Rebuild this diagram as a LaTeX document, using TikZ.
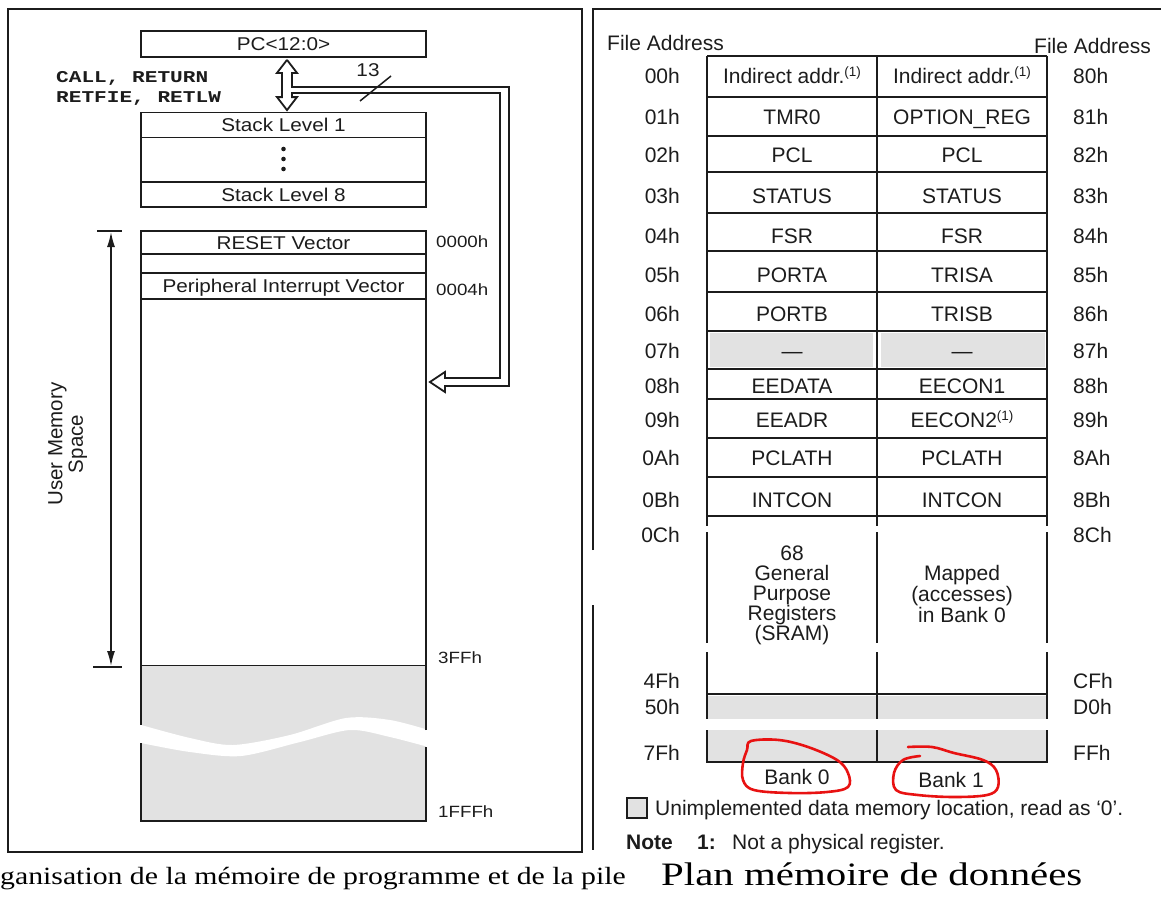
\documentclass[tikz,border=0pt]{standalone}
\usepackage{fontspec}
\usetikzlibrary{arrows.meta,calc}
\setmainfont{Liberation Serif}
\newfontfamily\rsans{Liberation Sans}
\newfontfamily\lsans[FakeStretch=1.12]{Liberation Sans}
\newfontfamily\lsmall[FakeStretch=1.15]{Liberation Sans}
\newfontfamily\lmono[FakeStretch=1.28]{Liberation Mono}
\newfontfamily\capA[FakeStretch=1.2]{Liberation Serif}
\newfontfamily\capB[FakeStretch=1.25]{Liberation Serif}
\newcommand\myfs[1]{\fontsize{#1}{#1}\selectfont}
\newcommand\sone{\raisebox{7pt}{\myfs{13.5}(1)}}
\definecolor{ink}{HTML}{1C1C1C}
\definecolor{unimp}{HTML}{E2E2E2}
\definecolor{hand}{RGB}{232,18,18}
\begin{document}
\begin{tikzpicture}[x=1pt,y=-1pt,
  ln/.style={draw=ink, line width=1.8},
  lbox/.style={draw=ink, line width=1.8, inner sep=0, minimum width=285, minimum height=#1,
    font=\lsans\myfs{18.5}, text=ink, text height=13.2, text depth=0},
  ltxt/.style={inner sep=0, font=\lsans\myfs{18.5}, text=ink, text height=13.2, text depth=0},
  lsm/.style={inner sep=0, font=\lsmall\myfs{16.3}, text=ink, text height=11.7, text depth=0, anchor=west},
  mono/.style={inner sep=0, font=\lmono\bfseries\myfs{16.5}, text=ink, text height=9.4, text depth=0, anchor=west},
  rtxt/.style={inner sep=0, font=\rsans\myfs{21}, text=ink, text height=15, text depth=0},
  rmulti/.style={inner sep=0, font=\rsans\fontsize{21}{#1}\selectfont, text=ink, align=center},
  redloop/.style={draw=hand, line width=2.6, line cap=round, line join=round}
]
\useasboundingbox (0,0) rectangle (1161,899);

% ================= LEFT PANEL =================
\draw[ln] (8,9) rectangle (582,852);

\node[lbox=26] (pc) at (283.5,44) {PC<12:0>};
\node[lbox=25] (s1) at (283.5,125) {Stack Level 1};
\node[lbox=44.5] (sd) at (283.5,159.75) {};
\node[lbox=25] (s8) at (283.5,194.5) {Stack Level 8};
\foreach \yy [count=\k] in {149,159,169}
  \fill[ink] (283.5,\yy) circle (2.3);

\node[mono] (call) at (56,78) {CALL, RETURN};
\node[mono] (retf) at (56,98) {RETFIE, RETLW};

% hollow double arrow PC <-> stack
\coordinate (dt) at ($(pc.south)+(3.5,2)$);
\coordinate (db) at ($(s1.north)+(3.5,-1.5)$);
\draw[ln, line join=miter] (dt) -- ++(-10,13) -- ++(5,0) |- ($(db)+(-5,-13)$) -- ++(-5,0) -- (db) -- ++(10,-13) -- ++(-5,0) -- ++(0,-5);
\draw[ln, line join=miter] (dt) -- ++(10,13) -- ++(-5,0) -- ++(0,15);

% program memory
\node[lbox=23] (reset) at (283.5,242.5) {RESET Vector};
\node[lbox=19] (blank) at (283.5,263.5) {};
\node[lbox=26] (piv) at (283.5,286) {Peripheral Interrupt Vector};
\node[lbox=367] (user) at (283.5,482.5) {};

% 13-bit bus into program memory
\coordinate (tip) at ($(user.east)+(3,-100.5)$);
\draw[ln, line join=miter] (292,87) -| (509,386) -- ($(tip)+(15,4)$) -- ++(0,6) -- (tip) -- ($(tip)+(15,-10)$) -- ++(0,6) -| (500,93) -- (292,93);

\node[ltxt] (n13) at (368,70) {13};
\draw[ln, line width=1.5] (360,101) -- (391,76);

\node[lsm] (a0) at (436,242) {0000h};
\node[lsm] (a4) at (436,290) {0004h};
\node[lsm] (a3ff) at (438,658) {3FFh};
\node[lsm] (a1fff) at (438,812) {1FFFh};

% unimplemented program area
\fill[unimp] (141,666) rectangle (426,821);
\fill[white] plot[smooth] coordinates {(134,723) (141,725) (190,738) (233,745) (290,735) (346,718) (390,720) (432,731)}
  -- plot[smooth] coordinates {(432,748) (390,737) (350,730) (300,742) (241,756) (190,752) (141,743) (134,741)} -- cycle;
\draw[ln] (141,666) -- (141,725) (141,743) -- (141,821) -- (426,821) -- (426,747) (426,730) -- (426,666);

% user memory space dimension
\draw[ln, line width=1.5] (97,231) -- (122,231);
\draw[ln, line width=1.5] (93,667) -- (122,667);
\draw[ink, line width=1.5, {Latex[length=15,width=8]}-{Latex[length=15,width=8]}] (111,232) -- (111,666);
\node[inner sep=0, font=\rsans\fontsize{20.5}{20.5}\selectfont, text=ink, align=center, rotate=90] (ums) at (67.7,444) {User Memory\\Space};

\node[inner sep=0, font=\capA\myfs{24.8}, anchor=base west] (capl) at (0,884) {ganisation de la mémoire de programme et de la pile};

% ================= RIGHT PANEL =================
\draw[ln] (593,550) -- (593,9) -- (1165,9);
\draw[ln] (593,605) -- (593,850);

\node[rtxt, anchor=west] (fal) at (607,43) {File Address};
\node[rtxt, anchor=west] (far) at (1034,46) {File Address};

% grey cells
\fill[unimp] (710,333) rectangle (873,367);
\fill[unimp] (881,333) rectangle (1045,367);
\fill[unimp] (708,696) rectangle (1046,719);
\fill[unimp] (708,730) rectangle (1046,762);

\foreach \yy in {56,97,136,172,213,251,292,331,369,399,438,477,516}
  \draw[ln] (707,\yy) -- (1047,\yy);
\foreach \xx in {707,877,1047}
  \draw[ln] (\xx,56) -- (\xx,526) (\xx,532) -- (\xx,643) (\xx,652) -- (\xx,719) (\xx,730) -- (\xx,763);
\draw[ln] (707,694) -- (1047,694);
\draw[ln] (707,762) -- (1047,762);

\foreach \yy/\la/\ca/\cb/\ra [count=\i] in {
  76/00h/{Indirect addr.\sone}/{Indirect addr.\sone}/80h,
  117/01h/TMR0/OPTION\_REG/81h,
  155/02h/PCL/PCL/82h,
  196/03h/STATUS/STATUS/83h,
  236/04h/FSR/FSR/84h,
  275/05h/PORTA/TRISA/85h,
  314/06h/PORTB/TRISB/86h,
  351/07h/\textemdash/\textemdash/87h,
  386/08h/EEDATA/EECON1/88h,
  420/09h/EEADR/{EECON2\sone}/89h,
  458/0Ah/PCLATH/PCLATH/8Ah,
  500/0Bh/INTCON/INTCON/8Bh}{
  \node[rtxt, anchor=east] (la\i) at (680,\yy) {\la};
  \node[rtxt] (ca\i) at (792,\yy) {\ca};
  \node[rtxt] (cb\i) at (962,\yy) {\cb};
  \node[rtxt, anchor=west] (ra\i) at (1073,\yy) {\ra};
}
\foreach \yy/\la/\ra [count=\i] in {535/0Ch/8Ch, 681/4Fh/CFh, 707/50h/D0h, 753/7Fh/FFh}{
  \node[rtxt, anchor=east] (lb\i) at (680,\yy) {\la};
  \node[rtxt, anchor=west] (rb\i) at (1073,\yy) {\ra};
}
\node[rmulti=20] (gpr) at (792,595) {68\\General\\Purpose\\Registers\\(SRAM)};
\node[rmulti=19] (map) at (962,594) {Mapped\\(accesses)\\in Bank 0};

\node[rtxt] (b0) at (797,777) {Bank 0};
\node[rtxt] (b1) at (951,780) {Bank 1};

\draw[redloop] plot[smooth cycle, tension=0.6] coordinates {(747,750) (751,741) (779,740) (808,747) (837,760) (848,773) (848,787) (827,792) (790,793) (754,790) (743,780) (743,763)};
\draw[redloop] plot[smooth, tension=0.6] coordinates {(908,747) (932,747) (954,753) (983,760) (996,770) (998,787) (987,795) (954,797) (918,795) (896,790) (894,773) (903,760) (920,756)};

\node[draw=ink, line width=1.6, fill=unimp, minimum size=20, inner sep=0] (leg) at (637,808) {};
\node[rtxt, anchor=west] (legt) at (655,808) {Unimplemented data memory location, read as ‘0’.};
\node[rtxt, anchor=west, font=\rsans\bfseries\myfs{21}] (note) at (626,842) {Note};
\node[rtxt, anchor=west, font=\rsans\bfseries\myfs{21}] (n1) at (697,842) {1:};
\node[rtxt, anchor=west] (nt) at (732,842) {Not a physical register.};

\node[inner sep=0, font=\capB\myfs{32.7}, anchor=base west] (capr) at (661,885) {Plan mémoire de données};
\end{tikzpicture}
\end{document}
